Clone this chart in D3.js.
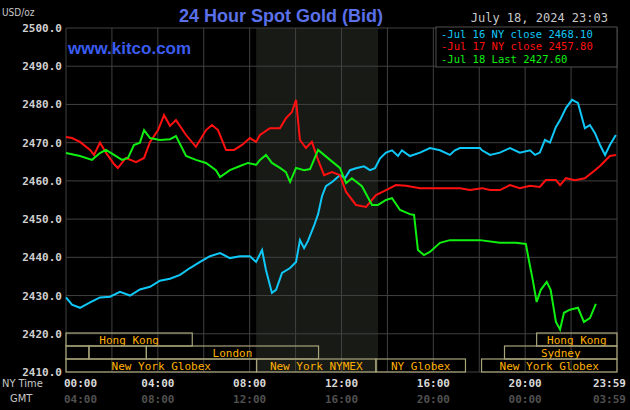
<!DOCTYPE html>
<html><head><meta charset="utf-8">
<script src="https://cdn.jsdelivr.net/npm/d3@7"></script>
<style>body{margin:0;background:#000}svg{display:block}</style>
</head><body><svg id="c" width="630" height="410"></svg>
<script>
const hoursBlue=[0,0.26,0.61,1.05,1.48,1.92,2.35,2.79,3.22,3.66,4.09,4.53,4.97,5.4,5.84,6.27,6.71,7.14,7.58,8.01,8.28,8.54,8.71,8.97,9.15,9.41,9.76,10.02,10.19,10.37,10.54,10.8,10.98,11.15,11.32,11.59,11.93,12.15,12.37,12.63,12.98,13.24,13.46,13.68,13.94,14.2,14.46,14.63,14.98,15.42,15.85,16.29,16.72,16.94,17.16,17.6,18.03,18.12,18.47,18.9,19.34,19.77,20.21,20.43,20.64,20.86,21.08,21.34,21.52,21.78,22.04,22.3,22.6,22.82,23.04,23.26,23.48,23.69,23.95];
const pricesBlue=[2429.5,2427.6,2426.8,2428.2,2429.5,2429.7,2431,2430,2431.6,2432.3,2433.9,2434.4,2435.4,2437.2,2438.8,2440.3,2441.1,2439.8,2440.3,2440.3,2438.8,2441.9,2436.7,2430.7,2431.5,2435.9,2437.2,2438.8,2444.5,2442.4,2444.3,2448.2,2451.3,2456,2458.6,2459.7,2461.5,2460.7,2462.8,2463.3,2463.8,2462.8,2463.3,2465.9,2467.4,2468,2466.5,2468,2466.5,2467.4,2468.6,2468,2466.8,2468,2468.6,2468.6,2468.6,2468,2466.8,2467.4,2468.6,2467.4,2468,2466.8,2467.4,2470.7,2470,2474.1,2475.9,2479.1,2481.2,2480.4,2473.8,2474.6,2472.5,2469.4,2466.8,2469.4,2472];
const hoursRed=[0,0.26,0.61,1.05,1.22,1.48,1.74,2.09,2.26,2.61,3.05,3.4,3.66,4.01,4.27,4.53,4.79,5.23,5.66,6.1,6.36,6.62,6.97,7.32,7.67,8.01,8.28,8.45,8.88,9.32,9.58,9.84,10.02,10.19,10.45,10.71,10.98,11.24,11.59,11.93,12.2,12.63,13.07,13.5,13.94,14.37,14.81,15.42,16.72,17.16,17.6,18.12,18.47,18.9,19.34,19.77,20.21,20.64,20.9,21.34,21.52,21.78,22.17,22.6,23.04,23.26,23.69,23.95];
const pricesRed=[2471.5,2471.2,2470.2,2468.1,2466.8,2470,2467.4,2464.4,2463.4,2466,2464.9,2466,2470.2,2473.3,2477.2,2474.4,2475.9,2472,2468.9,2473.3,2474.6,2473.3,2468.1,2468.1,2469.4,2471.2,2470.2,2472,2473.8,2473.8,2476.4,2478,2481.2,2470.7,2468.6,2470.2,2465.5,2461.5,2462.3,2461.5,2457.1,2453.7,2453.2,2456.3,2457.6,2458.9,2458.7,2458.1,2458.1,2458.1,2457.6,2458.1,2457.6,2457.6,2458.9,2458.1,2458.7,2458.4,2460.2,2460.2,2458.9,2460.7,2460.2,2460.7,2462.8,2463.9,2466.5,2466.8];
const hoursGreen=[0,0.61,1.13,1.48,1.74,2.09,2.44,2.7,2.96,3.22,3.4,3.66,4.09,4.53,4.79,5.23,5.66,6.1,6.53,6.71,7.14,7.58,7.93,8.28,8.45,8.71,8.97,9.32,9.58,9.76,10.02,10.37,10.63,10.98,11.5,11.93,12.2,12.45,12.89,13.33,13.59,13.94,14.2,14.55,14.98,15.16,15.33,15.59,15.85,16.29,16.72,17.16,18.03,18.9,19.6,20.03,20.16,20.33,20.5,20.68,20.94,21.11,21.34,21.52,21.69,21.95,22.3,22.56,22.82,23.08];
const pricesGreen=[2467.3,2466.5,2465.5,2467.3,2468.1,2466.8,2465.5,2466,2469.4,2470,2473.3,2471.2,2470.7,2470.9,2471.7,2466.5,2465.5,2464.7,2462.8,2461,2462.8,2463.9,2464.7,2464.2,2465.5,2466.8,2464.7,2463.4,2462.3,2459.7,2463.4,2462.8,2463.1,2468.1,2465.5,2463.4,2459.4,2460.7,2458.6,2453.7,2453.7,2455,2455.5,2452.4,2451.3,2451.1,2441.9,2440.6,2441.4,2443.8,2444.5,2444.5,2444.5,2443.8,2443.8,2443.5,2439.3,2434.1,2428.3,2431.5,2433.6,2431.5,2423.1,2421.1,2425.5,2426.3,2426.8,2423.1,2424.1,2427.8];
const seriesNames=["Jul 16 NY close 2468.10","Jul 17 NY close 2457.80","Jul 18 Last 2427.60"];
const yTicks=[2410,2420,2430,2440,2450,2460,2470,2480,2490,2500];
const nyTimes=["00:00","04:00","08:00","12:00","16:00","20:00","23:59"];
const gmtTimes=["04:00","08:00","12:00","16:00","20:00","00:00","03:59"];
const timeHours=[0,4,8,12,16,20,24];
// sessions: [row, start, end, label]
const sessions=[[0,0,5.5,"Hong Kong"],[0,20.5,24,"Hong Kong"],[1,0,1,""],[1,1,3.5,""],[1,3.5,11,"London"],[1,19.1,24,"Sydney"],[2,0,8.3,"New York Globex"],[2,8.3,13.5,"New York NYMEX"],[2,13.5,17.4,"NY Globex"],[2,18.1,24,"New York Globex"]];
const nymex=[8.28,13.59];

const svg=d3.select("#c");
const L=66,R=617,T=28,B=372;
const x=d3.scaleLinear().domain([0,24]).range([L,R]);
const y=d3.scaleLinear().domain([2410,2500]).range([B,T]);
const mono="'DejaVu Sans Mono',monospace";
svg.append("rect").attr("width",630).attr("height",410).attr("fill","#000");
svg.append("rect").attr("x",x(nymex[0])).attr("y",T).attr("width",x(nymex[1])-x(nymex[0])).attr("height",B-T).attr("fill","#181a16");
const g=svg.append("g");
d3.range(0,25,2).forEach(h=>g.append("line").attr("x1",x(h)).attr("x2",x(h)).attr("y1",T).attr("y2",B).attr("stroke","#404040"));
yTicks.forEach(v=>g.append("line").attr("x1",L).attr("x2",R).attr("y1",y(v)).attr("y2",y(v)).attr("stroke","#404040"));
svg.append("g").attr("transform",`translate(${L},0)`).call(d3.axisLeft(y).tickValues(yTicks).tickFormat(d3.format(".1f")).tickSize(0).tickPadding(4))
 .call(a=>a.select(".domain").remove())
 .selectAll("text").attr("fill","#d0d0d0").attr("font-family",mono).attr("font-weight","bold").attr("font-size",11);
const rowH=13,rowTop=B-3*rowH;
sessions.forEach(s=>{
 const y0=rowTop+s[0]*rowH;
 svg.append("rect").attr("x",x(s[1])).attr("y",y0).attr("width",x(s[2])-x(s[1])).attr("height",rowH).attr("fill","none").attr("stroke","#a8a47a").attr("stroke-width",1.2);
 if(s[3])svg.append("text").attr("x",(x(s[1])+x(s[2]))/2).attr("y",y0+10.5).attr("text-anchor","middle").attr("fill","#ffb000").attr("font-family",mono).attr("font-size",11).text(s[3]);
});
const line=d3.line().x(d=>x(d[0])).y(d=>y(d[1]));
[[hoursBlue,pricesBlue,"#10c8f8"],[hoursRed,pricesRed,"#ff1010"],[hoursGreen,pricesGreen,"#10f010"]].forEach(([h,p,c])=>{
 svg.append("path").datum(h.map((v,i)=>[v,p[i]])).attr("d",line).attr("fill","none").attr("stroke",c).attr("stroke-width",2);
});
timeHours.forEach((h,i)=>{
 const anchor=i==0?"start":(i==6?"end":"middle");
 const xx=i==0?L-2:(i==6?R+9:x(h));
 svg.append("text").attr("x",xx).attr("y",387).attr("text-anchor",anchor).attr("fill","#d8d8d8").attr("font-family",mono).attr("font-weight","bold").attr("font-size",11).text(nyTimes[i]);
 svg.append("text").attr("x",xx).attr("y",403).attr("text-anchor",anchor).attr("fill","#505050").attr("font-family",mono).attr("font-weight","bold").attr("font-size",11).text(gmtTimes[i]);
});
svg.append("text").attr("x",2).attr("y",387).attr("fill","#c8c8c8").attr("font-family","'Liberation Sans Narrow','DejaVu Sans Condensed',sans-serif").attr("font-size",11).text("NY Time");
svg.append("text").attr("x",10).attr("y",402).attr("fill","#c8c8c8").attr("font-family","'Liberation Sans Narrow','DejaVu Sans Condensed',sans-serif").attr("font-size",11).text("GMT");
svg.append("text").attr("x",2).attr("y",16).attr("fill","#c8c8c8").attr("font-family","'DejaVu Sans Condensed',sans-serif").attr("font-size",10).text("USD/oz");
svg.append("text").attr("x",281).attr("y",22).attr("text-anchor","middle").attr("fill","#5a70e8").attr("font-family","'Liberation Sans',Arial,sans-serif").attr("font-weight","bold").attr("font-size",18).text("24 Hour Spot Gold (Bid)");
svg.append("text").attr("x",68).attr("y",54).attr("fill","#3a5cf0").attr("font-family","'Liberation Sans',Arial,sans-serif").attr("font-weight","bold").attr("font-size",17).text("www.kitco.com");
svg.append("text").attr("x",608).attr("y",22).attr("text-anchor","end").attr("fill","#c8c8c8").attr("font-family",mono).attr("font-size",12).text("July 18, 2024 23:03");
svg.append("rect").attr("x",436).attr("y",27).attr("width",181).attr("height",40).attr("fill","#000").attr("stroke","#505050");
const cols=["#10c8f8","#ff1010","#10f010"];
seriesNames.forEach((n,i)=>svg.append("text").attr("x",441).attr("y",37.5+i*12.5).attr("fill",cols[i]).attr("font-family",mono).attr("font-size",10.5).text("-"+n));
</script></body></html>
